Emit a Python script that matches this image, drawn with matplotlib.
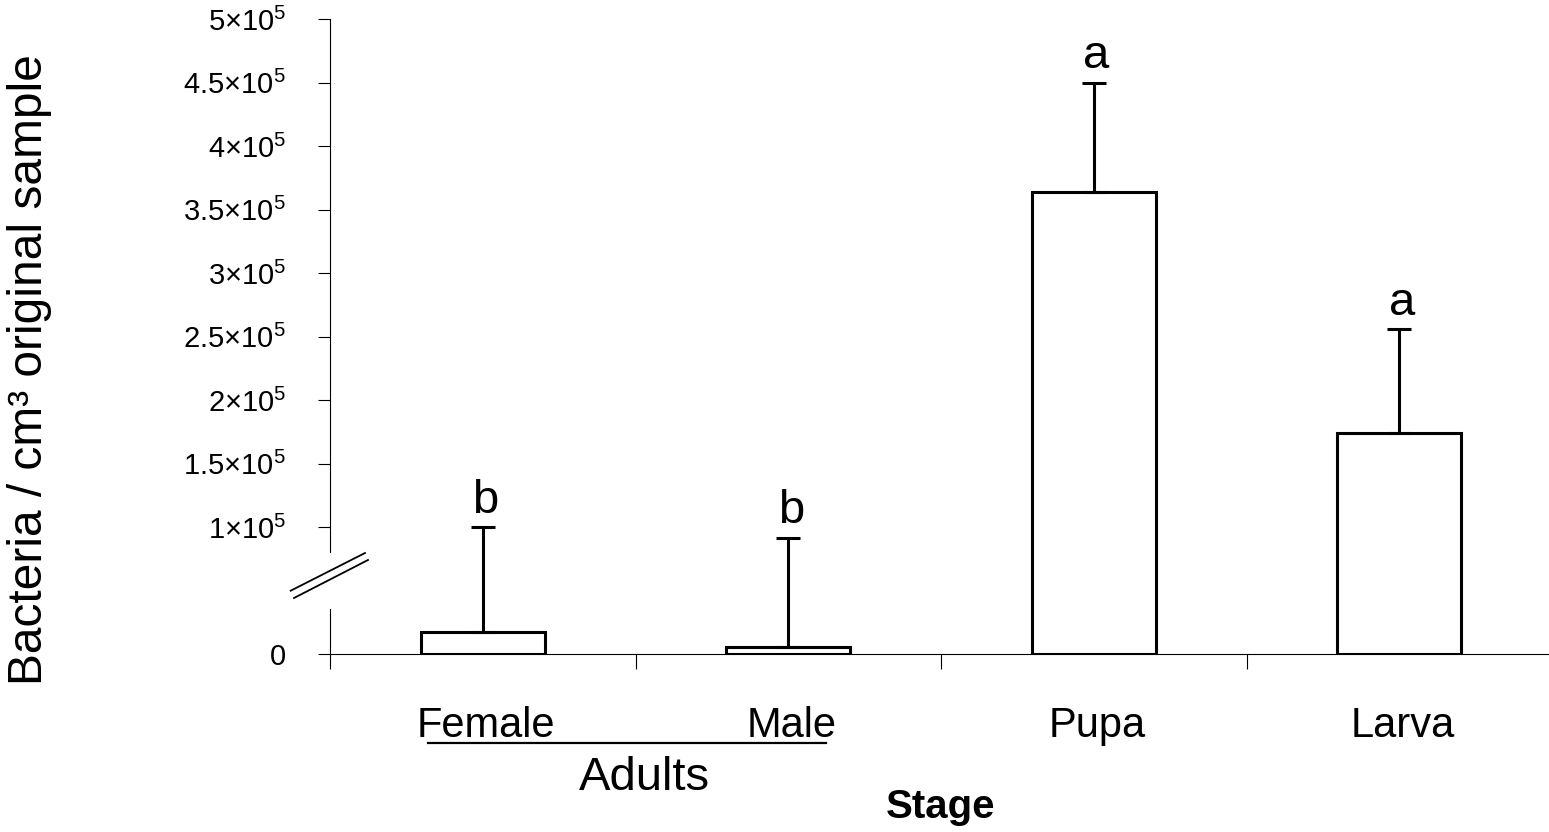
import numpy as np
import matplotlib
matplotlib.use("Agg")
import matplotlib.pyplot as plt
from matplotlib.transforms import IdentityTransform, blended_transform_factory

plt.rcParams['font.family'] = ['Liberation Sans', 'DejaVu Sans']
plt.rcParams['mathtext.fontset'] = 'custom'
plt.rcParams['mathtext.rm'] = 'Liberation Sans'
plt.rcParams['mathtext.it'] = 'Liberation Sans:italic'
plt.rcParams['mathtext.bf'] = 'Liberation Sans:bold'

# ---- data ----
categories = ["Female", "Male", "Pupa", "Larva"]
means = [17300, 5700, 363800, 174000]
errors_up = [82700, 85900, 85800, 81900]
letters = ["b", "b", "a", "a"]
group_label = "Adults"
ytick_values = [0, 100000, 150000, 200000, 250000, 300000, 350000, 400000, 450000, 500000]
ytick_labels = ["0", "1×10$^{5}$", "1.5×10$^{5}$", "2×10$^{5}$", "2.5×10$^{5}$", "3×10$^{5}$",
                "3.5×10$^{5}$", "4×10$^{5}$", "4.5×10$^{5}$", "5×10$^{5}$"]
xlabel = "Stage"
ylabel = "Bacteria / cm³ original sample"

W, H = 1549, 832
fig = plt.figure(figsize=(W / 100, H / 100), dpi=100)
ax = fig.add_axes([330 / W, 177.7 / H, 1222 / W, 635.3 / H])

x = np.arange(len(categories))
ax.bar(x, means, width=0.405, color="white", edgecolor="black", linewidth=2.2, zorder=2)
ax.errorbar(x, means, yerr=[np.zeros(len(means)), errors_up], fmt="none", ecolor="black",
            elinewidth=2.2, capsize=8.6, capthick=2.2, zorder=3)

for xi, m, e, t in zip(x, means, errors_up, letters):
    ax.annotate(t, xy=(xi, m + e), xytext=(2, 10.5), textcoords="offset points",
                ha="center", va="baseline", fontsize=34)

ax.set_xlim(-0.5, len(categories) - 0.5)
ax.set_ylim(0, 500000)

ax.set_yticks(ytick_values)
ax.set_yticklabels(ytick_labels, fontsize=21)
ax.set_xticks(np.arange(-0.5, len(categories), 1.0))
ax.set_xticklabels([])
ax.tick_params(axis="y", direction="out", length=8.6, width=0.8, pad=23, colors="black")
ax.tick_params(axis="x", direction="out", length=10.8, width=0.8, colors="black")

for s in ["top", "right", "left"]:
    ax.spines[s].set_visible(False)
ax.spines["bottom"].set_linewidth(0.8)

# broken left axis
ytr = blended_transform_factory(ax.transAxes, ax.transData)
ax.plot([0, 0], [0, 35700], color="black", lw=0.8, transform=ytr, clip_on=False, zorder=4)
ax.plot([0, 0], [80800, 500000], color="black", lw=0.8, transform=ytr, clip_on=False, zorder=4)

fig.canvas.draw()
ox, oy = ax.transAxes.transform((0, 0))
idt = IdentityTransform()
ax.plot([ox - 39.3, ox + 35], [oy + 63.6, oy + 101.3], color="black", lw=1.3,
        transform=idt, clip_on=False)
ax.plot([ox - 36, ox + 38], [oy + 56.3, oy + 94.3], color="black", lw=1.3,
        transform=idt, clip_on=False)

# category labels
xtr = blended_transform_factory(ax.transData, ax.transAxes)
for xi, c in zip(x, categories):
    ax.text(xi + 0.01, -0.1302, c, transform=xtr, ha="center", va="baseline", fontsize=30)

# group underline and label
ax.plot([-0.18, 1.125], [-0.1396, -0.1396], color="black", lw=1.6, transform=xtr, clip_on=False)
ax.text(0.53, -0.2133, group_label, transform=xtr, ha="center", va="baseline", fontsize=34)

ax.text(0.5, -0.2574, xlabel, transform=ax.transAxes, ha="center", va="baseline",
        fontsize=29, fontweight="bold")
fig.text(30 / W, 1 - 370 / H, ylabel, rotation=90, ha="center", va="center", fontsize=34.5)

fig.savefig("out.png", dpi=100)
